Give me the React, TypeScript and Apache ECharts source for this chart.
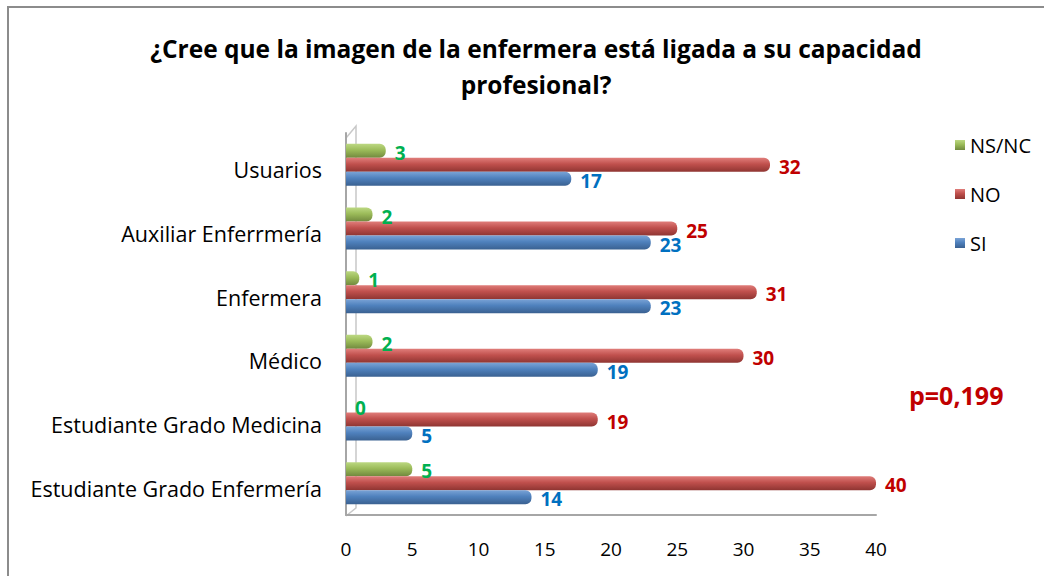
import React, { useEffect, useRef } from "react";
import * as echarts from "echarts";

const categories = [
  "Estudiante Grado Enfermería",
  "Estudiante Grado Medicina",
  "Médico",
  "Enfermera",
  "Auxiliar Enferrmería",
  "Usuarios",
];
const siValues = [14, 5, 19, 23, 23, 17];
const noValues = [40, 19, 30, 31, 25, 32];
const nsncValues = [5, 0, 2, 1, 2, 3];
const xTicks = [0, 5, 10, 15, 20, 25, 30, 35, 40];

const FONT = "'Open Sans', Lato, sans-serif";

function grad(light: string, mid: string, dark: string) {
  return new echarts.graphic.LinearGradient(0, 0, 0, 1, [
    { offset: 0, color: light },
    { offset: 0.45, color: mid },
    { offset: 1, color: dark },
  ]);
}

export default function App() {
  const ref = useRef<HTMLDivElement>(null);
  useEffect(() => {
    document.body.style.margin = "0";
    const chart = echarts.init(ref.current!, null, { renderer: "svg" });
    const mkSeries = (name: string, data: number[], g: any, labelColor: string) => ({
      name,
      type: "bar",
      data,
      barWidth: 14,
      barGap: "0%",
      itemStyle: { color: g, borderRadius: [0, 6, 6, 0] },
      label: {
        show: true,
        position: "right",
        distance: 9,
        offset: [0, 2],
        color: labelColor,
        fontWeight: "bold",
        fontSize: 19,
        fontFamily: FONT,
      },
    });
    chart.setOption({
      animation: false,
      backgroundColor: "#ffffff",
      title: {
        text: "¿Cree que la imagen de la enfermera está ligada a su capacidad\nprofesional?",
        left: 531,
        top: 25,
        textAlign: "center",
        textStyle: {
          fontFamily: FONT,
          fontWeight: "bold",
          fontSize: 24.5,
          lineHeight: 36,
          color: "#000",
        },
      },
      legend: {
        orient: "vertical",
        left: 950,
        top: 130,
        itemWidth: 10,
        itemHeight: 10,
        itemGap: 29,
        icon: "rect",
        data: ["NS/NC", "NO", "SI"],
        textStyle: { fontFamily: FONT, fontSize: 20, color: "#000" },
      },
      grid: { left: 346, right: 168, top: 133, bottom: 61 },
      xAxis: {
        type: "value",
        min: xTicks[0],
        max: xTicks[xTicks.length - 1],
        interval: 5,
        axisLine: { show: true, lineStyle: { color: "#a6a6a6", width: 2 } },
        axisTick: { show: false },
        splitLine: { show: false },
        axisLabel: {
          margin: 24,
          fontFamily: FONT,
          fontSize: 19,
          color: "#000",
        },
      },
      yAxis: {
        type: "category",
        data: categories,
        axisLine: { show: true, lineStyle: { color: "#a6a6a6", width: 2 } },
        axisTick: { show: false },
        axisLabel: {
          margin: 24,
          formatter: "{a|{value}}",
          rich: {
            a: {
              padding: [10, 0, 0, 0],
              fontFamily: FONT,
              fontSize: 21.5,
              color: "#000",
            },
          },
          fontFamily: FONT,
          fontSize: 21.5,
          color: "#000",
        },
      },
      series: [
        mkSeries("NS/NC", nsncValues, grad("#bcd882", "#9BBB59", "#71893e"), "#00B050"),
        mkSeries("NO", noValues, grad("#e07d7a", "#C0504D", "#8f3532"), "#C00000"),
        mkSeries("SI", siValues, grad("#7aa3d6", "#4F81BD", "#3a6191"), "#0070C0"),
      ],
      graphic: [
        {
          type: "polyline",
          shape: { points: [[8, 576], [8, 7], [1044, 7]] },
          style: { stroke: "#8c8c8c", lineWidth: 2, fill: null },
        },
        {
          type: "polyline",
          shape: { points: [[346, 138], [356, 126], [356, 508], [346, 516]] },
          style: { stroke: "#c8c8c8", lineWidth: 1.5, fill: null },
        },
        {
          type: "text",
          left: 909,
          top: 382,
          style: {
            text: "p=0,199",
            fontFamily: FONT,
            fontWeight: "bold",
            fontSize: 25,
            fill: "#C00000",
          },
        },
      ],
    });
    return () => chart.dispose();
  }, []);
  return <div ref={ref} style={{ width: 1044, height: 576 }} />;
}
